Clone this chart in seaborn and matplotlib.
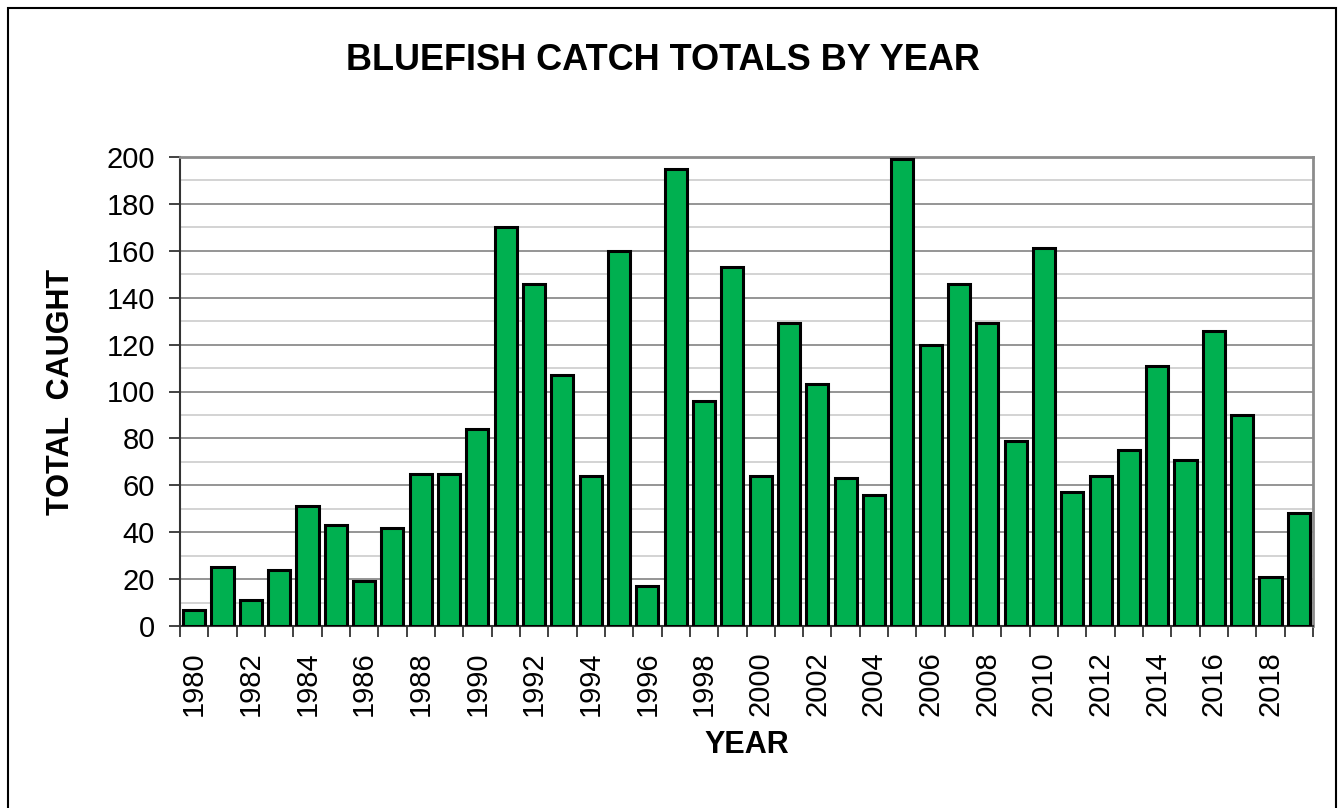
import pandas as pd
import matplotlib.pyplot as plt
import seaborn as sns
from matplotlib.patches import Rectangle

years = list(range(1980, 2020))
caught = [7, 25, 11, 24, 51, 43, 19, 42, 65, 65,
          84, 170, 146, 107, 64, 160, 17, 195, 96, 153,
          64, 129, 103, 63, 56, 199, 120, 146, 129, 79,
          161, 57, 64, 75, 111, 71, 126, 90, 21, 48]
tick_years = [str(y) for y in years[::2]]

df = pd.DataFrame({'Year': [str(y) for y in years], 'Caught': caught})

sns.set_style('white')
plt.rcParams['font.family'] = ['Liberation Sans', 'DejaVu Sans']
plt.rcParams['text.color'] = 'black'
plt.rcParams['axes.labelcolor'] = 'black'
plt.rcParams['xtick.color'] = 'black'
plt.rcParams['ytick.color'] = 'black'

fig = plt.figure(figsize=(13.43, 8.08), dpi=100)
ax = fig.add_axes([180/1343, 1-626/808, (1313-180)/1343, (626-157)/808])

sns.barplot(data=df, x='Year', y='Caught', color='#00B050', saturation=1,
            edgecolor='black', linewidth=2.2, width=0.78, ax=ax, zorder=3)

# y axis
ax.set_ylim(0, 200)
ax.set_yticks(range(0, 201, 20))
ax.set_yticks(range(10, 200, 20), minor=True)
ax.grid(which='major', axis='y', color='#8c8c8c', linewidth=1.3, zorder=0)
ax.grid(which='minor', axis='y', color='#d0d0d0', linewidth=1.3, zorder=0)
ax.tick_params(axis='y', which='major', labelsize=21, length=8, width=1.3,
               direction='out', color='#333333', pad=10, left=True)
ax.tick_params(axis='y', which='minor', length=0)

# x axis: labels every other year, ticks between bars
ax.set_xlim(-0.5, len(years) - 0.5)
ax.set_xticks(range(0, len(years), 2), tick_years, rotation=90)
ax.set_xticks([i - 0.5 for i in range(len(years) + 1)], minor=True)
ax.tick_params(axis='x', which='major', labelsize=21, length=0, pad=18)
ax.tick_params(axis='x', which='minor', length=8, width=1.3,
               direction='out', color='#333333', bottom=True)

for side in ['top', 'right']:
    ax.spines[side].set_visible(True)
    ax.spines[side].set_color('#8c8c8c')
    ax.spines[side].set_linewidth(2)
for side in ['left', 'bottom']:
    ax.spines[side].set_color('#333333')
    ax.spines[side].set_linewidth(1.5)

ax.set_xlabel('YEAR', fontsize=22, fontweight='bold', labelpad=10)
ax.set_ylabel('TOTAL  CAUGHT', fontsize=22, fontweight='bold', labelpad=22)

fig.text(663/1343, 1-61/808, 'BLUEFISH CATCH TOTALS BY YEAR', fontsize=26,
         fontweight='bold', ha='center', va='center')

# outer chart border
fig.patches.append(Rectangle((8/1343, -0.01), (1336-8)/1343, 1.01-8/808,
                             transform=fig.transFigure, fill=False,
                             edgecolor='black', linewidth=1.5))

fig.savefig('out.png', dpi=100)
